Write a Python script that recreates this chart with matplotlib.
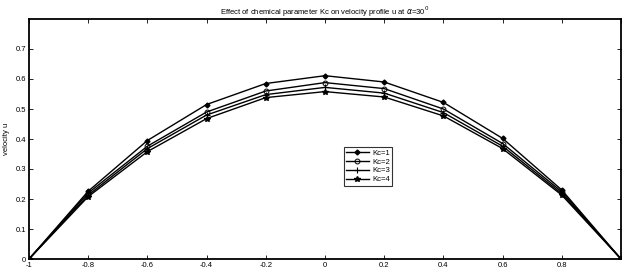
import numpy as np
import matplotlib
matplotlib.use("Agg")
import matplotlib.pyplot as plt

plt.rcParams['font.family'] = ['Liberation Sans', 'DejaVu Sans']

x = [-1, -0.8, -0.6, -0.4, -0.2, 0, 0.2, 0.4, 0.6, 0.8, 1]
kc1 = [0, 0.226, 0.395, 0.515, 0.585, 0.611, 0.590, 0.522, 0.402, 0.230, 0]
kc2 = [0, 0.220, 0.376, 0.490, 0.560, 0.588, 0.568, 0.500, 0.385, 0.224, 0]
kc3 = [0, 0.213, 0.368, 0.480, 0.548, 0.572, 0.553, 0.488, 0.376, 0.218, 0]
kc4 = [0, 0.208, 0.358, 0.468, 0.538, 0.558, 0.540, 0.477, 0.368, 0.213, 0]
labels = ["Kc=1", "Kc=2", "Kc=3", "Kc=4"]

fig = plt.figure(figsize=(6.24, 2.73), dpi=100)
ax = fig.add_axes([29/624, 1 - 259/273, 592/624, 240/273])

ax.plot(x, kc1, 'k-', marker='D', ms=2.5, lw=1.0, label=labels[0])
ax.plot(x, kc2, 'k-', marker='o', ms=3.5, mfc='none', mew=0.7, lw=1.0, label=labels[1])
ax.plot(x, kc3, 'k-', marker='+', ms=4, mew=0.8, lw=1.0, label=labels[2])
ax.plot(x, kc4, 'k-', marker='*', ms=4, lw=1.0, label=labels[3])

ax.set_xlim(-1, 1)
ax.set_ylim(0, 0.8)
ax.set_xticks(np.arange(-1, 1.01, 0.2))
ax.set_xticklabels(["-1", "-0.8", "-0.6", "-0.4", "-0.2", "0", "0.2", "0.4", "0.6", "0.8", ""])
ax.set_yticks(np.arange(0, 0.71, 0.1))
ax.set_yticklabels(["0", "0.1", "0.2", "0.3", "0.4", "0.5", "0.6", "0.7"])
ax.tick_params(direction='in', top=True, right=True, labelsize=5.5, length=3, width=0.6, pad=2)
for s in ax.spines.values():
    s.set_linewidth(1.3)

ax.set_ylabel("velocity u", fontsize=5.5, labelpad=4)
ax.set_title(r"Effect of chemical parameter Kc on velocity profile u at $\alpha$=30$^0$", fontsize=5.5, pad=3)

leg = ax.legend(loc='lower left', bbox_to_anchor=(0.525, 0.29), fontsize=5.5, frameon=True,
                fancybox=False, edgecolor='k', handlelength=3, borderpad=0.3,
                labelspacing=0.2, handletextpad=0.4)
leg.get_frame().set_linewidth(0.8)

fig.savefig("out.png", dpi=100)
